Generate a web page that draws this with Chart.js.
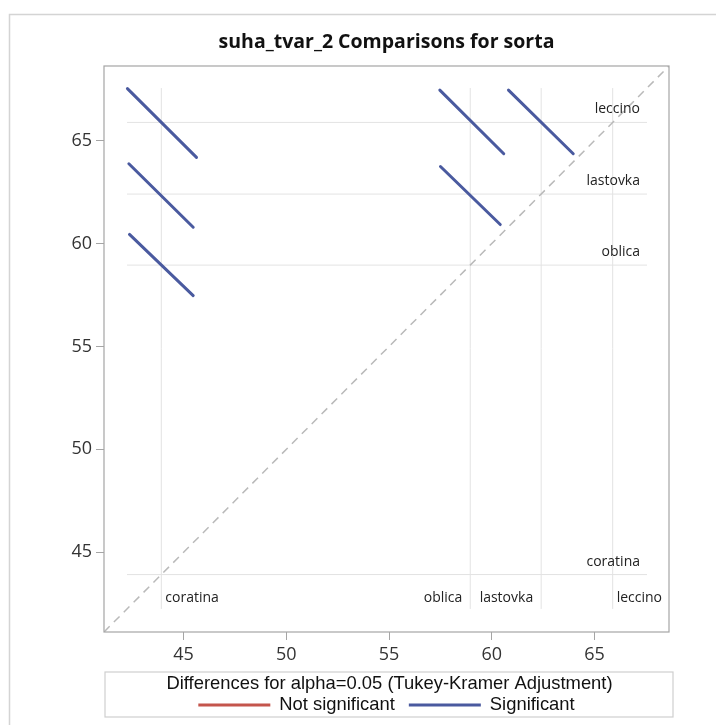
<!DOCTYPE html>
<html>
<head>
<meta charset="utf-8">
<title>suha_tvar_2 Comparisons for sorta</title>
<script src="https://cdn.jsdelivr.net/npm/chart.js@4.4.1/dist/chart.umd.min.js"></script>
<style>
  html, body { margin: 0; padding: 0; background: #fff; }
  canvas { display: block; }
</style>
</head>
<body>
<canvas id="diffogram" width="716" height="725"></canvas>
<script>
// LS-means of suha_tvar_2 for each sorta (where the reference lines sit)
const sorts = ['coratina', 'oblica', 'lastovka', 'leccino'];
const means = [43.92, 58.95, 62.4, 65.88];

// one segment per comparison: sort on the x axis, sort on the y axis
const pairX = ['coratina', 'coratina', 'coratina', 'oblica', 'lastovka', 'oblica'];
const pairY = ['leccino', 'lastovka', 'oblica', 'leccino', 'leccino', 'lastovka'];
const segStart = [[42.27, 67.52], [42.34, 63.87], [42.37, 60.44], [57.47, 67.45], [60.81, 67.45], [57.50, 63.74]];
const segEnd = [[45.63, 64.18], [45.47, 60.79], [45.47, 57.47], [60.58, 64.36], [63.96, 64.36], [60.41, 60.92]];
const significant = [true, true, true, true, true, true];

// axes
const axisRange = [41.13, 68.62];
const tickValues = [45, 50, 55, 60, 65];
const refSpan = [42.25, 67.55];

const SIG = '#4a5a9f';
const NONSIG = '#c4554c';
const REF = '#e3e3e3';

const datasets = [];

// comparison segments on top
segStart.forEach((s, i) => {
  datasets.push({
    label: pairX[i] + ' - ' + pairY[i],
    data: [{ x: s[0], y: s[1] }, { x: segEnd[i][0], y: segEnd[i][1] }],
    showLine: true,
    borderColor: significant[i] ? SIG : NONSIG,
    borderWidth: 3,
    pointRadius: 0,
    borderCapStyle: 'round'
  });
});

// y = x diagonal
datasets.push({
  label: 'diagonal',
  data: [{ x: axisRange[0], y: axisRange[0] }, { x: axisRange[1], y: axisRange[1] }],
  showLine: true,
  borderColor: '#b9b9b9',
  borderWidth: 1.5,
  borderDash: [8, 6],
  pointRadius: 0
});

// reference lines at every mean
means.forEach((m, i) => {
  datasets.push({
    label: sorts[i] + ' h',
    data: [{ x: refSpan[0], y: m }, { x: refSpan[1], y: m }],
    showLine: true, borderColor: REF, borderWidth: 1, pointRadius: 0
  });
  datasets.push({
    label: sorts[i] + ' v',
    data: [{ x: m, y: refSpan[0] }, { x: m, y: refSpan[1] }],
    showLine: true, borderColor: REF, borderWidth: 1, pointRadius: 0
  });
});

// which side of its vertical line each bottom label goes
const bottomSide = { coratina: 'right', oblica: 'left', lastovka: 'left', leccino: 'right' };

const decor = {
  id: 'decor',
  beforeDraw(chart) {
    const ctx = chart.ctx;
    ctx.save();
    ctx.fillStyle = '#fff';
    ctx.fillRect(0, 0, chart.width, chart.height);
    // outer frame of the output cell
    ctx.strokeStyle = '#d4d4d4';
    ctx.lineWidth = 1.5;
    ctx.beginPath();
    ctx.moveTo(9.5, chart.height);
    ctx.lineTo(9.5, 14.5);
    ctx.lineTo(chart.width, 14.5);
    ctx.stroke();
    ctx.restore();
  },
  afterDraw(chart) {
    const ctx = chart.ctx;
    const a = chart.chartArea;
    const xs = chart.scales.x, ys = chart.scales.y;
    ctx.save();

    // plot frame
    ctx.strokeStyle = '#a5a5a5';
    ctx.lineWidth = 1.2;
    ctx.strokeRect(a.left, a.top, a.right - a.left, a.bottom - a.top);

    // level labels
    ctx.fillStyle = '#222';
    ctx.font = '14px "Open Sans"';
    ctx.textBaseline = 'middle';
    const rightEdge = xs.getPixelForValue(refSpan[1]) - 7;
    means.forEach((m, i) => {
      ctx.textAlign = 'right';
      ctx.fillText(sorts[i], rightEdge, ys.getPixelForValue(m) - 13);
      const px = xs.getPixelForValue(m);
      const side = bottomSide[sorts[i]];
      ctx.textAlign = side === 'right' ? 'left' : 'right';
      ctx.fillText(sorts[i], side === 'right' ? px + 4 : px - 8, a.bottom - 34);
    });

    // title
    const cx = (a.left + a.right) / 2;
    ctx.fillStyle = '#111';
    ctx.font = 'bold 19.5px "Open Sans"';
    ctx.textAlign = 'center';
    ctx.fillText('suha_tvar_2 Comparisons for sorta', cx, 42);

    // legend box
    const lt = a.bottom + 40;
    ctx.strokeStyle = '#cfcfcf';
    ctx.lineWidth = 1.2;
    ctx.strokeRect(a.left + 1, lt, a.right - a.left + 3, 45);
    ctx.fillStyle = '#111';
    ctx.font = '18.4px "Liberation Sans"';
    ctx.fillText('Differences for alpha=0.05 (Tukey-Kramer Adjustment)', cx + 3, lt + 12);

    const items = [['Not significant', NONSIG], ['Significant', SIG]];
    const lineLen = 72, gapText = 9, gapItem = 14;
    const widths = items.map(it => lineLen + gapText + ctx.measureText(it[0]).width);
    const total = widths[0] + widths[1] + gapItem;
    let x = cx - total / 2;
    const iy = lt + 33;
    ctx.textAlign = 'left';
    items.forEach((it, i) => {
      ctx.strokeStyle = it[1];
      ctx.lineWidth = 3;
      ctx.beginPath();
      ctx.moveTo(x, iy);
      ctx.lineTo(x + lineLen, iy);
      ctx.stroke();
      ctx.fillText(it[0], x + lineLen + gapText, iy);
      x += widths[i] + gapItem;
    });
    ctx.restore();
  }
};

const axisOpts = (which) => ({
  type: 'linear',
  min: axisRange[0],
  max: axisRange[1],
  afterBuildTicks: s => { s.ticks = tickValues.map(v => ({ value: v })); },
  afterFit: s => {
    if (which === 'y') s.width = 104;
    else s.height = 40;
  },
  border: { display: false },
  grid: {
    drawOnChartArea: false,
    drawTicks: true,
    tickLength: 8,
    tickColor: '#a5a5a5'
  },
  ticks: {
    color: '#333',
    font: { family: 'Open Sans', size: 18 },
    padding: 4
  }
});

new Chart(document.getElementById('diffogram'), {
  type: 'scatter',
  data: { datasets },
  plugins: [decor],
  options: {
    responsive: false,
    animation: false,
    layout: { padding: { left: 0, right: 47, top: 66, bottom: 53 } },
    plugins: {
      legend: { display: false },
      title: { display: false },
      tooltip: { enabled: false }
    },
    scales: {
      x: Object.assign({ position: 'bottom' }, axisOpts('x')),
      y: Object.assign({ position: 'left' }, axisOpts('y'))
    }
  }
});
</script>
</body>
</html>
